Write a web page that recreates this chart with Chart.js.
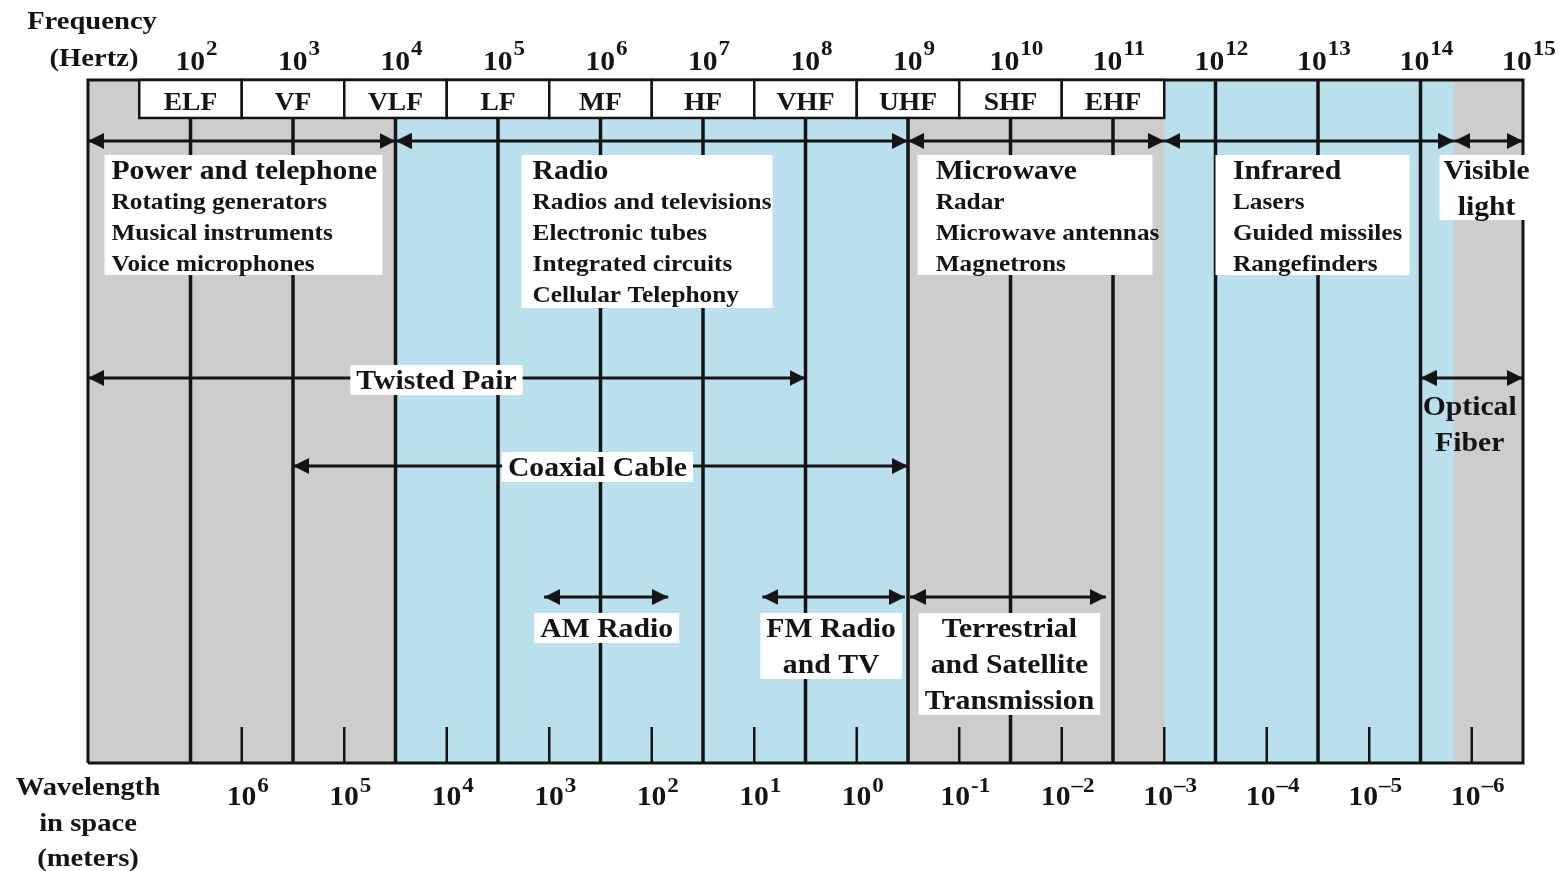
<!DOCTYPE html>
<html>
<head>
<meta charset="utf-8">
<script src="https://cdn.jsdelivr.net/npm/chart.js@4/dist/chart.umd.min.js"></script>
<style>
html,body{margin:0;padding:0;background:#ffffff;}
#wrap{width:1568px;height:871px;}
canvas{display:block;}
</style>
</head>
<body>
<div id="wrap"><canvas id="c" width="1568" height="871"></canvas></div>
<script>
// ---------------- DATA (x = log10 of frequency in Hz) ----------------
const freqMin = 1;
const freqMax = 15;
const freqTickValues = [2, 3, 4, 5, 6, 7, 8, 9, 10, 11, 12, 13, 14, 15];
const freqTickBase = '10';
const freqTickExponents = ['2', '3', '4', '5', '6', '7', '8', '9', '10', '11', '12', '13', '14', '15'];
const decadeLines = [2, 3, 4, 5, 6, 7, 8, 9, 10, 11, 12, 13, 14];
const wavelengthTickValues = [2.5, 3.5, 4.5, 5.5, 6.5, 7.5, 8.5, 9.5, 10.5, 11.5, 12.5, 13.5, 14.5];
const wavelengthTickBase = '10';
const wavelengthTickExponents = ['6', '5', '4', '3', '2', '1', '0', '-1', '\u20132', '\u20133', '\u20134', '\u20135', '\u20136'];

const bandNames = ['ELF', 'VF', 'VLF', 'LF', 'MF', 'HF', 'VHF', 'UHF', 'SHF', 'EHF'];
const bandStarts = [1.5, 2.5, 3.5, 4.5, 5.5, 6.5, 7.5, 8.5, 9.5, 10.5];
const bandEnds = [2.5, 3.5, 4.5, 5.5, 6.5, 7.5, 8.5, 9.5, 10.5, 11.5];

const blueStarts = [4, 11.5];
const blueEnds = [9, 14.33];

const regionTitles = [['Power and telephone'], ['Radio'], ['Microwave'], ['Infrared'], ['Visible', 'light']];
const regionUses = [
  ['Rotating generators', 'Musical instruments', 'Voice microphones'],
  ['Radios and televisions', 'Electronic tubes', 'Integrated circuits', 'Cellular Telephony'],
  ['Radar', 'Microwave antennas', 'Magnetrons'],
  ['Lasers', 'Guided missiles', 'Rangefinders'],
  []
];
const regionStarts = [1, 4, 9, 11.5, 14.33];
const regionEnds = [4, 9, 11.5, 14.33, 15];

const mediaNames = [['Twisted Pair'], ['Coaxial Cable'], ['Optical', 'Fiber'], ['AM Radio'], ['FM Radio', 'and TV'], ['Terrestrial', 'and Satellite', 'Transmission']];
const mediaStarts = [1, 3, 14, 5.45, 7.58, 9.02];
const mediaEnds = [8, 9, 15, 6.66, 8.97, 10.93];

const axisTitleTop = ['Frequency', '(Hertz)'];
const axisTitleBottom = ['Wavelength', 'in space', '(meters)'];

// ---------------- LAYOUT / STYLE (y in 0..100 plot units) ----------------
const INK = '#141414';
const GRAY = '#cdcdcd';
const BLUE = '#bae0ed';
const FAMILY = "'Liberation Serif', 'Times New Roman', serif";
const SX = 1.1;
const LAYOUT = {
  bandRowBottom: 94.44,
  regionArrowY: 91.07,
  mediaArrowY: [56.37, 43.48, 56.37, 24.30, 24.30, 24.30],
  smallTickTop: 5.27,
  regionBoxes: [
    { l: 1.161, r: 3.873, t: 89.02, b: 71.45, tx: 1.229, align: 'left', gap: 31 },
    { l: 5.229, r: 7.678, t: 89.02, b: 66.62, tx: 5.337, align: 'left', gap: 31 },
    { l: 9.093, r: 11.385, t: 89.02, b: 71.45, tx: 9.27, align: 'left', gap: 31 },
    { l: 12.0, r: 13.893, t: 89.02, b: 71.45, tx: 12.17, align: 'left', gap: 31 },
    { l: 14.185, r: 15.034, t: 89.02, b: 79.50, tx: 14.645, align: 'center', gap: 36 }
  ],
  mediaText: [
    { x: 4.40, y: 56.08, box: true },
    { x: 5.97, y: 43.34, box: true },
    { x: 14.48, y: 52.27, box: false },
    { x: 6.06, y: 19.77, box: true },
    { x: 8.25, y: 19.77, box: true },
    { x: 9.99, y: 19.77, box: true }
  ]
};

function font(size) { return 'bold ' + size + 'px ' + FAMILY; }
// y = visual centre of the text line
function drawText(ctx, str, x, y, size, align) {
  ctx.save();
  ctx.font = font(size);
  ctx.fillStyle = INK;
  ctx.textBaseline = 'middle';
  ctx.textAlign = align;
  ctx.translate(x, y + 2);
  ctx.scale(SX, 1);
  ctx.fillText(str, 0, 0);
  ctx.restore();
}
function textW(ctx, str, size) { ctx.save(); ctx.font = font(size); const w = ctx.measureText(str).width * SX; ctx.restore(); return w; }
function drawPower(ctx, base, exp, cx, cy, raise) {
  const bw = textW(ctx, base, 27), ew = textW(ctx, exp, 21);
  const left = cx - (bw + ew + 1) / 2;
  drawText(ctx, base, left, cy, 27, 'left');
  drawText(ctx, exp, left + bw + 1, cy - raise, 21, 'left');
}

// arrowhead image: tip at the image centre, body to the left
function makeArrowHead() {
  const L = 16, H = 16;
  const c = document.createElement('canvas');
  c.width = 2 * L; c.height = H;
  const g = c.getContext('2d');
  g.fillStyle = INK;
  g.beginPath();
  g.moveTo(0, 0);
  g.lineTo(L, H / 2);
  g.lineTo(0, H);
  g.closePath();
  g.fill();
  return c;
}
const arrowHead = makeArrowHead();

// ---------------- DATASETS ----------------
const datasets = [];
datasets.push({
  label: 'background', data: [{ x: freqMin, y: 100 }, { x: freqMax, y: 100 }],
  fill: 'origin', backgroundColor: GRAY, borderWidth: 0, pointRadius: 0, order: 100
});
blueStarts.forEach((s, i) => {
  datasets.push({
    label: 'blue' + i, data: [{ x: s, y: 100 }, { x: blueEnds[i], y: 100 }],
    fill: 'origin', backgroundColor: BLUE, borderWidth: 0, pointRadius: 0, order: 90
  });
});
const tickPts = [];
wavelengthTickValues.forEach(v => { tickPts.push({ x: v, y: 0 }, { x: v, y: LAYOUT.smallTickTop }, { x: v, y: null }); });
datasets.push({ label: 'smallTicks', data: tickPts, borderColor: INK, borderWidth: 2.5, pointRadius: 0, fill: false, spanGaps: false, order: 40 });
const decPts = [];
decadeLines.forEach(v => { decPts.push({ x: v, y: 0 }, { x: v, y: 100 }, { x: v, y: null }); });
datasets.push({ label: 'decades', data: decPts, borderColor: INK, borderWidth: 3.5, pointRadius: 0, fill: false, spanGaps: false, order: 30 });
datasets.push({
  label: 'frame', data: [{ x: freqMin, y: 0 }, { x: freqMin, y: 100 }, { x: freqMax, y: 100 }, { x: freqMax, y: 0 }, { x: freqMin, y: 0 }],
  borderColor: INK, borderWidth: 3, pointRadius: 0, fill: false, borderJoinStyle: 'miter', order: 20, clip: false
});
function arrowDataset(label, a, b, y) {
  return {
    label: label, data: [{ x: a, y: y }, { x: b, y: y }],
    borderColor: INK, borderWidth: 3, fill: false,
    pointStyle: arrowHead, pointRadius: 8, pointHoverRadius: 8, pointRotation: [180, 0],
    pointBorderWidth: 0, clip: false, order: 10
  };
}
regionStarts.forEach((s, i) => datasets.push(arrowDataset('region' + i, s, regionEnds[i], LAYOUT.regionArrowY)));
mediaStarts.forEach((s, i) => datasets.push(arrowDataset('media' + i, s, mediaEnds[i], LAYOUT.mediaArrowY[i])));

// ---------------- OVERLAY PLUGIN (band cells, text boxes, tick labels, titles) ----------------
const overlay = {
  id: 'overlay',
  afterDatasetsDraw(chart) {
    const ctx = chart.ctx;
    const xs = chart.scales.x, ys = chart.scales.y;
    const px = v => xs.getPixelForValue(v), py = v => ys.getPixelForValue(v);
    // band cells
    bandNames.forEach((name, i) => {
      const l = px(bandStarts[i]), r = px(bandEnds[i]);
      const t = py(100), b = py(LAYOUT.bandRowBottom);
      ctx.save();
      ctx.fillStyle = '#ffffff';
      ctx.fillRect(l, t, r - l, b - t);
      ctx.strokeStyle = INK; ctx.lineWidth = 2.5;
      ctx.strokeRect(l, t, r - l, b - t);
      ctx.restore();
      drawText(ctx, name, (l + r) / 2, (t + b) / 2 + 3, 25, 'center');
    });
    // region text boxes
    regionTitles.forEach((title, i) => {
      const bx = LAYOUT.regionBoxes[i];
      const l = px(bx.l), r = px(bx.r), t = py(bx.t), b = py(bx.b);
      ctx.save(); ctx.fillStyle = '#ffffff'; ctx.fillRect(l, t, r - l, b - t); ctx.restore();
      let y = t + 15;
      const x = px(bx.tx);
      title.forEach(line => { drawText(ctx, line, x, y, 27, bx.align); y += bx.gap; });
      regionUses[i].forEach(line => { drawText(ctx, line, x, y, 23, bx.align); y += bx.gap; });
    });
    // media labels
    mediaNames.forEach((lines, i) => {
      const m = LAYOUT.mediaText[i];
      const cx = px(m.x), cy = py(m.y);
      const gap = 36;
      if (m.box) {
        let w = 0;
        lines.forEach(s => { w = Math.max(w, textW(ctx, s, 27)); });
        ctx.save(); ctx.fillStyle = '#ffffff';
        ctx.fillRect(cx - w / 2 - 6, cy - 15, w + 12, (lines.length - 1) * gap + 30);
        ctx.restore();
      }
      lines.forEach((s, k) => drawText(ctx, s, cx, cy + k * gap, 27, 'center'));
    });
  },
  afterDraw(chart) {
    const ctx = chart.ctx;
    const area = chart.chartArea;
    // frequency ticks (top axis)
    const top = chart.scales.x2;
    top.ticks.forEach(t => {
      const k = freqTickValues.indexOf(t.value);
      drawPower(ctx, freqTickBase, freqTickExponents[k], top.getPixelForValue(t.value) + 6, area.top - 18.5, 14);
    });
    // wavelength ticks (bottom axis)
    const bot = chart.scales.x;
    bot.ticks.forEach(t => {
      const k = wavelengthTickValues.indexOf(t.value);
      drawPower(ctx, wavelengthTickBase, wavelengthTickExponents[k], bot.getPixelForValue(t.value) + 6, area.bottom + 33, 11);
    });
    drawText(ctx, axisTitleTop[0], 92, 20, 26, 'center');
    drawText(ctx, axisTitleTop[1], 94, 57, 26, 'center');
    drawText(ctx, axisTitleBottom[0], 88, 786, 26, 'center');
    drawText(ctx, axisTitleBottom[1], 88, 822, 26, 'center');
    drawText(ctx, axisTitleBottom[2], 88, 857, 26, 'center');
  }
};

new Chart(document.getElementById('c'), {
  type: 'line',
  data: { datasets: datasets },
  options: {
    responsive: false,
    animation: false,
    devicePixelRatio: 1,
    events: [],
    layout: { padding: { left: 88, right: 45, top: 0, bottom: 0 } },
    plugins: { legend: { display: false }, tooltip: { enabled: false } },
    elements: { line: { tension: 0 } },
    scales: {
      x: {
        type: 'linear', position: 'bottom', min: freqMin, max: freqMax,
        afterBuildTicks: s => { s.ticks = wavelengthTickValues.map(v => ({ value: v })); },
        afterFit: s => { s.height = 108; },
        grid: { display: false, drawTicks: false },
        border: { display: false },
        ticks: { display: false, autoSkip: false }
      },
      x2: {
        type: 'linear', position: 'top', min: freqMin, max: freqMax,
        afterBuildTicks: s => { s.ticks = freqTickValues.map(v => ({ value: v })); },
        afterFit: s => { s.height = 80; },
        grid: { display: false, drawTicks: false },
        border: { display: false },
        ticks: { display: false, autoSkip: false }
      },
      y: { min: 0, max: 100, display: false }
    }
  },
  plugins: [overlay]
});
</script>
</body>
</html>
